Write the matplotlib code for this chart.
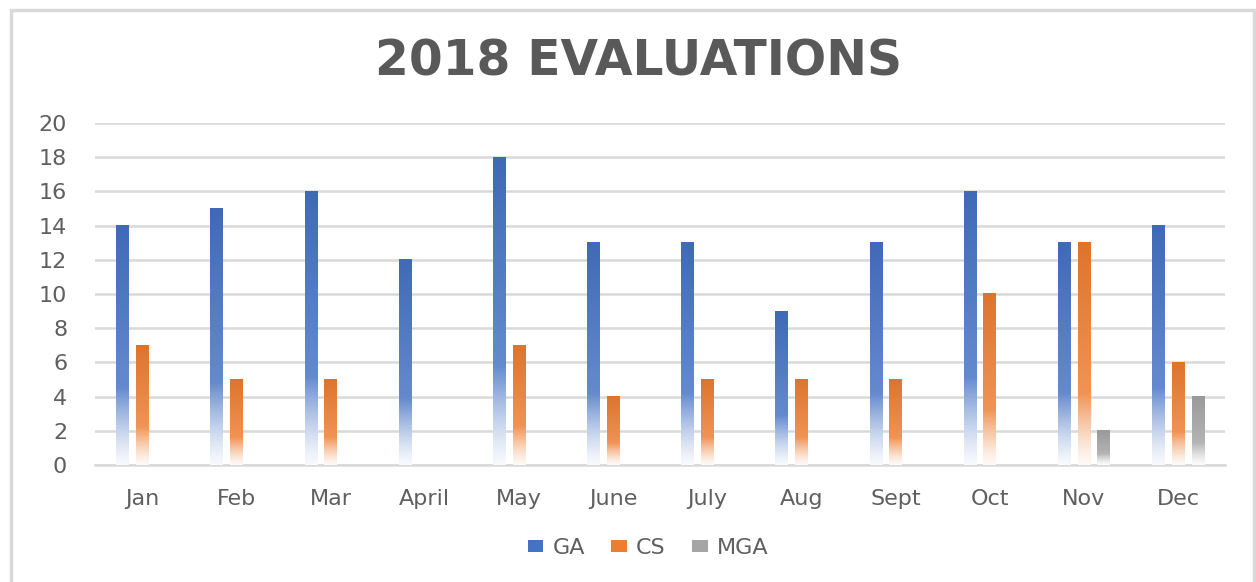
import numpy as np
import matplotlib
matplotlib.use("Agg")
import matplotlib.pyplot as plt
from matplotlib.colors import to_rgb
from matplotlib.patches import Rectangle, Patch

months = ['Jan', 'Feb', 'Mar', 'April', 'May', 'June', 'July', 'Aug', 'Sept', 'Oct', 'Nov', 'Dec']
ga = [14, 15, 16, 12, 18, 13, 13, 9, 13, 16, 13, 14]
cs = [7, 5, 5, 0, 7, 4, 5, 5, 5, 10, 13, 6]
mga = [0, 0, 0, 0, 0, 0, 0, 0, 0, 0, 2, 4]

series = [('GA', ga, '#4472C4'), ('CS', cs, '#ED7D31'), ('MGA', mga, '#A5A5A5')]

text_col = '#5f5f5f'
plt.rcParams['font.family'] = ['DejaVu Sans']

fig = plt.figure(figsize=(12.56, 5.82), dpi=100)
# outer chart border
fig.patches.append(Rectangle((11 / 1256, -0.05), 1243 / 1256, 1.05 - 10 / 582,
                             transform=fig.transFigure, fill=False,
                             edgecolor='#D9D9D9', linewidth=2.5))

ax = fig.add_axes([95 / 1256, 1 - 465 / 582, 1130 / 1256, 342 / 582])

x = np.arange(len(months))
width = 0.13
offset = 0.21


def gradient_bar(xc, h, color):
    # bar that is dark at the top and fades to white at the bottom
    if h <= 0:
        return
    base = np.array(to_rgb(color))
    t = np.linspace(0, 1, 300)[:, None]  # 0 bottom, 1 top
    top = base * 0.93
    mid = base * 0.82 + 0.18
    # linear from mid (t=0.3) to top (t=1)
    s = np.clip((t - 0.3) / 0.7, 0, 1)
    col = mid * (1 - s) + top * s
    # fade to white below t=0.3
    f = np.clip(t / 0.32, 0, 1) ** 1.3
    f = 0.05 + 0.95 * f
    rgb = (1 - f) * 1.0 + f * col
    img = rgb[:, None, :]
    ax.imshow(img, extent=[xc - width / 2, xc + width / 2, 0, h],
              origin='lower', aspect='auto', zorder=3, interpolation='bilinear')


for i, (name, vals, col) in enumerate(series):
    for xi, v in zip(x, vals):
        gradient_bar(xi + (i - 1) * offset, v, col)

ax.set_xlim(-0.5, len(months) - 0.5)
ax.set_ylim(0, 20)
ax.set_yticks(range(0, 21, 2))
ax.set_xticks(x)
ax.set_xticklabels(months)
ax.yaxis.grid(True, color='#D9D9D9', linewidth=1.8, zorder=0)
ax.set_axisbelow(True)
for s in ['top', 'right', 'left']:
    ax.spines[s].set_visible(False)
ax.spines['bottom'].set_color('#D9D9D9')
ax.spines['bottom'].set_linewidth(1.8)
ax.tick_params(axis='both', length=0, colors=text_col, labelsize=16)
ax.tick_params(axis='x', pad=17)
ax.tick_params(axis='y', pad=20)
ax.set_facecolor('none')

fig.text(0.508, 1 - 62 / 582, '2018 EVALUATIONS', ha='center', va='center',
         fontsize=35, fontweight='bold', color='#595959')

handles = [Patch(facecolor=c, edgecolor='none', label=n) for n, _, c in series]
fig.legend(handles=handles, loc='center', bbox_to_anchor=(0.516, 1 - 548 / 582),
           ncol=3, frameon=False, fontsize=16, labelcolor=text_col,
           handlelength=0.7, handleheight=0.4, handletextpad=0.4, columnspacing=1.2)

plt.savefig('out.png', dpi=100)
